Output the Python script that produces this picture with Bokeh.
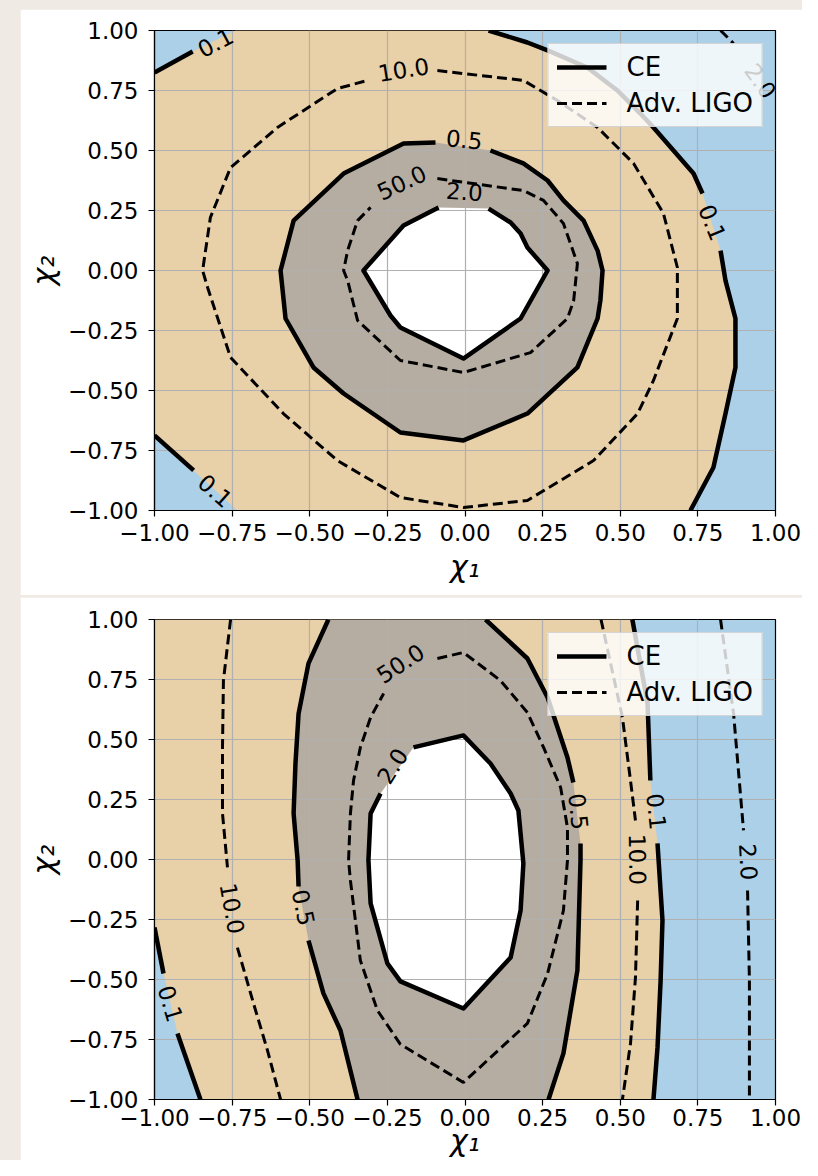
from bokeh.plotting import figure
from bokeh.models import (Range1d, FixedTicker, CustomJSTickFormatter, Legend,
                          LegendItem, ColumnDataSource, Spacer)
from bokeh.layouts import column, row
from bokeh.core.properties import value
from bokeh.embed import file_html
from bokeh.resources import INLINE

# ---------------- data ----------------
axis_limits = (-1.0, 1.0)
tick_values = [-1.0, -0.75, -0.5, -0.25, 0.0, 0.25, 0.5, 0.75, 1.0]
series_names = ["CE", "Adv. LIGO"]

# ---- top panel: CE contours (solid), visible pieces ----
top_ce01_tl_x = [[-1.0, -0.877], [-0.74]]
top_ce01_tl_y = [[0.825, 0.9125], [1.0]]
top_ce01_r_x = [[0.076, 0.201, 0.266, 0.394, 0.491, 0.565, 0.607, 0.736, 0.765],
                [0.823, 0.839, 0.871, 0.871, 0.839, 0.80, 0.726]]
top_ce01_r_y = [[1.0, 0.95, 0.917, 0.846, 0.75, 0.654, 0.596, 0.404, 0.321],
                [0.083, -0.042, -0.2, -0.404, -0.596, -0.821, -1.0]]
top_ce01_bl_x = [[-1.0, -0.874], [-0.733]]
top_ce01_bl_y = [[-0.6875, -0.833], [-1.0]]
top_ce05_x = [[0.082, 0.188, 0.266, 0.317, 0.382, 0.427, 0.443, 0.436, 0.427, 0.362,
               0.201, -0.005, -0.208, -0.391, -0.488, -0.578, -0.594, -0.552, -0.391,
               -0.198, -0.095]]
top_ce05_y = [[0.5, 0.446, 0.375, 0.292, 0.208, 0.083, 0.0, -0.125, -0.2, -0.404,
               -0.596, -0.708, -0.675, -0.5125, -0.404, -0.2, 0.0, 0.208, 0.404,
               0.529, 0.533]]
top_ce20_x = [[0.076, 0.147, 0.179, 0.201, 0.266, 0.179, -0.005, -0.208, -0.24,
               -0.327, -0.198, -0.085]]
top_ce20_y = [[0.258, 0.2, 0.154, 0.096, 0.0, -0.2, -0.367, -0.2375, -0.1875,
               0.0, 0.1875, 0.2625]]
# ---- top panel: Adv. LIGO contours (dashed) ----
top_ligo10_x = [[-0.089, 0.188, 0.298, 0.427, 0.543, 0.639, 0.684, 0.684, 0.684, 0.607,
                 0.556, 0.414, 0.201, -0.005, -0.208, -0.411, -0.585, -0.755, -0.829,
                 -0.845, -0.820, -0.755, -0.604, -0.411, -0.314]]
top_ligo10_y = [[0.833, 0.792, 0.708, 0.596, 0.446, 0.238, 0.0125, -0.042, -0.2, -0.458,
                 -0.596, -0.792, -0.958, -0.9875, -0.946, -0.792, -0.596, -0.3625,
                 -0.071, 0.0, 0.221, 0.429, 0.596, 0.758, 0.792]]
top_ligo50_x = [[-0.089, 0.188, 0.253, 0.317, 0.362, 0.350, 0.330, 0.211, -0.005,
                 -0.208, -0.346, -0.378, -0.391, -0.378, -0.346, -0.304]]
top_ligo50_y = [[0.383, 0.333, 0.292, 0.196, 0.029, -0.125, -0.2, -0.342, -0.425,
                 -0.375, -0.208, -0.042, 0.0, 0.083, 0.208, 0.263]]
top_ligo20_x = [[0.823, 0.865]]
top_ligo20_y = [[1.0, 0.946]]
# ---- top panel: contour labels ----
top_lab_x = [-0.804, -0.198, -0.002, -0.204, -0.002, 0.797, 0.952, -0.804]
top_lab_y = [0.95, 0.8375, 0.546, 0.367, 0.329, 0.2, 0.79, -0.917]
top_lab_text = ["0.1", "10.0", "0.5", "50.0", "2.0", "0.1", "2.0", "0.1"]
top_lab_angle = [28, 9, -6, 25, -4, -68, -55, -41]

# ---- bottom panel: CE contours ----
bot_ce01_r_x = [[0.539, 0.588, 0.597], [0.620, 0.636, 0.630, 0.620, 0.607]]
bot_ce01_r_y = [[1.0, 0.65, 0.329], [0.067, -0.254, -0.504, -0.783, -1.0]]
bot_ce01_l_x = [[-1.0, -0.971], [-0.926, -0.852]]
bot_ce01_l_y = [[-0.283, -0.475], [-0.725, -1.0]]
bot_ce05_l_x = [[-0.440, -0.504, -0.536, -0.546, -0.552, -0.539, -0.536],
                [-0.504, -0.456, -0.401, -0.346]]
bot_ce05_l_y = [[1.0, 0.817, 0.608, 0.4, 0.192, -0.004, -0.1125],
                [-0.3375, -0.558, -0.7125, -1.0]]
bot_ce05_r_x = [[0.066, 0.201, 0.266, 0.330, 0.349], [0.372, 0.372, 0.362, 0.317, 0.269]]
bot_ce05_r_y = [[1.0, 0.8375, 0.675, 0.425, 0.321], [0.067, -0.004, -0.4625, -0.808, -1.0]]
bot_ce20_x = [[-0.166, -0.005, 0.082, 0.147, 0.172, 0.188, 0.179, 0.147, -0.005, -0.208,
               -0.250, -0.304, -0.311, -0.304, -0.272]]
bot_ce20_y = [[0.467, 0.517, 0.4, 0.275, 0.204, -0.017, -0.2125, -0.408, -0.621, -0.508,
               -0.433, -0.183, -0.004, 0.192, 0.275]]
# ---- bottom panel: Adv. LIGO contours ----
bot_ligo10_l_x = [[-0.755, -0.778, -0.781, -0.781, -0.765], [-0.733, -0.681, -0.636, -0.594]]
bot_ligo10_l_y = [[1.0, 0.746, 0.467, 0.192, -0.033], [-0.367, -0.6, -0.796, -1.0]]
bot_ligo10_r_x = [[0.438, 0.507, 0.533, 0.549], [0.556, 0.549, 0.533, 0.507]]
bot_ligo10_r_y = [[1.0, 0.592, 0.329, 0.1625], [-0.171, -0.492, -0.767, -1.0]]
bot_ligo20_r_x = [[0.823, 0.865, 0.897], [0.910, 0.916, 0.916]]
bot_ligo20_r_y = [[1.0, 0.608, 0.121], [-0.129, -0.504, -1.0]]
bot_ligo50_x = [[-0.089, -0.005, 0.114, 0.201, 0.253, 0.308, 0.330, 0.330, 0.317, 0.266,
                 0.201, -0.005, -0.208, -0.282, -0.337, -0.369, -0.375, -0.369, -0.359,
                 -0.337, -0.304, -0.262]]
bot_ligo50_y = [[0.8375, 0.8625, 0.746, 0.6125, 0.467, 0.3, 0.133, -0.004, -0.2125, -0.475,
                 -0.683, -0.929, -0.77, -0.629, -0.421, -0.0875, -0.004, 0.192, 0.329,
                 0.467, 0.592, 0.692]]
# ---- bottom panel: contour labels ----
bot_lab_x = [-0.208, -0.234, 0.366, 0.617, 0.556, 0.913, -0.749, -0.520, -0.948]
bot_lab_y = [0.817, 0.39, 0.2, 0.2, 0.0, -0.01, -0.204, -0.2, -0.6]
bot_lab_text = ["50.0", "2.0", "0.5", "0.1", "10.0", "2.0", "10.0", "0.5", "0.1"]
bot_lab_angle = [33, 58, -84, -84, -89, -87, -80, -78, -73]

# ---------------- style ----------------
C_BLUE = "#abd0e7"
C_BEIGE = "#e8d0a8"
C_GREY = "#b6ada2"
FONT = "DejaVu Sans"
PAGE_BG = "#efebe4"


def flat(pieces):
    return [v for seg in pieces for v in seg]


def visible(xs, ys):
    out_x, out_y = [], []
    for a, b in zip(xs, ys):
        if len(a) >= 2:
            out_x.append(a)
            out_y.append(b)
    return out_x, out_y


def make_panel(height, top_b, bottom_b, fills, ce_pieces, ligo_pieces, labels,
               tick_standoff, label_standoff):
    p = figure(width=782, height=height, output_backend="svg", toolbar_location=None,
               x_range=Range1d(*axis_limits), y_range=Range1d(*axis_limits),
               min_border_left=134, min_border_right=27,
               min_border_top=top_b, min_border_bottom=bottom_b)
    p.background_fill_color = C_BLUE
    p.border_fill_color = "white"
    p.outline_line_color = "black"
    p.outline_line_width = 1.2

    for (fx, fy, col) in fills:
        p.patch(fx, fy, fill_color=col, line_color=None, level="image")

    cx, cy = ce_pieces
    lx, ly = ligo_pieces
    r_ce = p.multi_line(cx, cy, line_color="black", line_width=4.5, line_join="round")
    r_lg = p.multi_line(lx, ly, line_color="black", line_width=3, line_dash="10 5")

    tx, ty, tt, ta = labels
    src = ColumnDataSource(dict(x=tx, y=ty, text=tt, angle=ta))
    p.text("x", "y", text="text", angle="angle", angle_units="deg", source=src,
           text_align="center", text_baseline="middle", text_font_size="23px",
           text_font=value(FONT), text_color="black")

    fmt = CustomJSTickFormatter(code="""
        const s = Math.abs(tick).toFixed(2);
        return tick < 0 ? '\\u2212' + s : s;""")
    for ax in (p.xaxis[0], p.yaxis[0]):
        ax.ticker = FixedTicker(ticks=tick_values)
        ax.formatter = fmt
        ax.major_label_text_font = FONT
        ax.major_label_text_font_size = "23px"
        ax.major_label_text_color = "black"
        ax.major_tick_out = 6
        ax.major_tick_in = 0
        ax.minor_tick_out = 0
        ax.minor_tick_in = 0
        ax.major_tick_line_color = "black"
        ax.major_tick_line_width = 1.2
        ax.axis_line_color = "black"
        ax.axis_line_width = 1.2
        ax.axis_label_text_font = FONT
        ax.axis_label_text_font_size = "30px"
        ax.axis_label_text_font_style = "italic"
        ax.axis_label_text_color = "black"
    p.xaxis.axis_label = "χ₁"
    p.yaxis.axis_label = "χ₂"
    p.xaxis.major_label_standoff = tick_standoff
    p.yaxis.major_label_standoff = 10
    p.xaxis.axis_label_standoff = label_standoff
    p.yaxis.axis_label_standoff = 4

    for g in (p.xgrid[0], p.ygrid[0]):
        g.ticker = FixedTicker(ticks=tick_values)
        g.grid_line_color = "#b0b0b0"
        g.grid_line_width = 1.2

    legend = Legend(items=[LegendItem(label=series_names[0], renderers=[r_ce]),
                           LegendItem(label=series_names[1], renderers=[r_lg])],
                    location="top_right", margin=13, padding=8, spacing=6,
                    glyph_width=50, glyph_height=24, label_standoff=20,
                    label_text_font=FONT, label_text_font_size="26px",
                    label_text_color="black",
                    background_fill_color="white", background_fill_alpha=0.8,
                    border_line_color="#cccccc", border_line_alpha=0.8,
                    border_line_width=1)
    p.add_layout(legend)
    return p


# ---- top panel fills ----
top_beige_x = flat(top_ce01_tl_x) + flat(top_ce01_r_x) + flat(top_ce01_bl_x)[::-1]
top_beige_y = flat(top_ce01_tl_y) + flat(top_ce01_r_y) + flat(top_ce01_bl_y)[::-1]
top_fills = [(top_beige_x, top_beige_y, C_BEIGE),
             (flat(top_ce05_x), flat(top_ce05_y), C_GREY),
             (flat(top_ce20_x), flat(top_ce20_y), "white")]
top_ce = visible(top_ce01_tl_x + top_ce01_r_x + top_ce01_bl_x + top_ce05_x + top_ce20_x,
                 top_ce01_tl_y + top_ce01_r_y + top_ce01_bl_y + top_ce05_y + top_ce20_y)
top_lg = visible(top_ligo10_x + top_ligo50_x + top_ligo20_x,
                 top_ligo10_y + top_ligo50_y + top_ligo20_y)

# ---- bottom panel fills ----
bot_beige_x = [axis_limits[0]] + flat(bot_ce01_l_x) + flat(bot_ce01_r_x)[::-1]
bot_beige_y = [axis_limits[1]] + flat(bot_ce01_l_y) + flat(bot_ce01_r_y)[::-1]
bot_grey_x = flat(bot_ce05_l_x) + flat(bot_ce05_r_x)[::-1]
bot_grey_y = flat(bot_ce05_l_y) + flat(bot_ce05_r_y)[::-1]
bot_fills = [(bot_beige_x, bot_beige_y, C_BEIGE),
             (bot_grey_x, bot_grey_y, C_GREY),
             (flat(bot_ce20_x), flat(bot_ce20_y), "white")]
bot_ce = visible(bot_ce01_r_x + bot_ce01_l_x + bot_ce05_l_x + bot_ce05_r_x + bot_ce20_x,
                 bot_ce01_r_y + bot_ce01_l_y + bot_ce05_l_y + bot_ce05_r_y + bot_ce20_y)
bot_lg = visible(bot_ligo10_l_x + bot_ligo10_r_x + bot_ligo20_r_x + bot_ligo50_x,
                 bot_ligo10_l_y + bot_ligo10_r_y + bot_ligo20_r_y + bot_ligo50_y)

p_top = make_panel(586, 21, 85, top_fills, top_ce, top_lg,
                   (top_lab_x, top_lab_y, top_lab_text, top_lab_angle), 7, 5)
p_bot = make_panel(563, 22, 61, bot_fills, bot_ce, bot_lg,
                   (bot_lab_x, bot_lab_y, bot_lab_text, bot_lab_angle), 3, -6)

layout = row(Spacer(width=20, height=1160),
             column(Spacer(width=782, height=9), p_top, Spacer(width=782, height=2), p_bot,
                    spacing=0),
             spacing=0,
             styles={"background-color": PAGE_BG})

open("out.html", "w").write(file_html(layout, INLINE))
